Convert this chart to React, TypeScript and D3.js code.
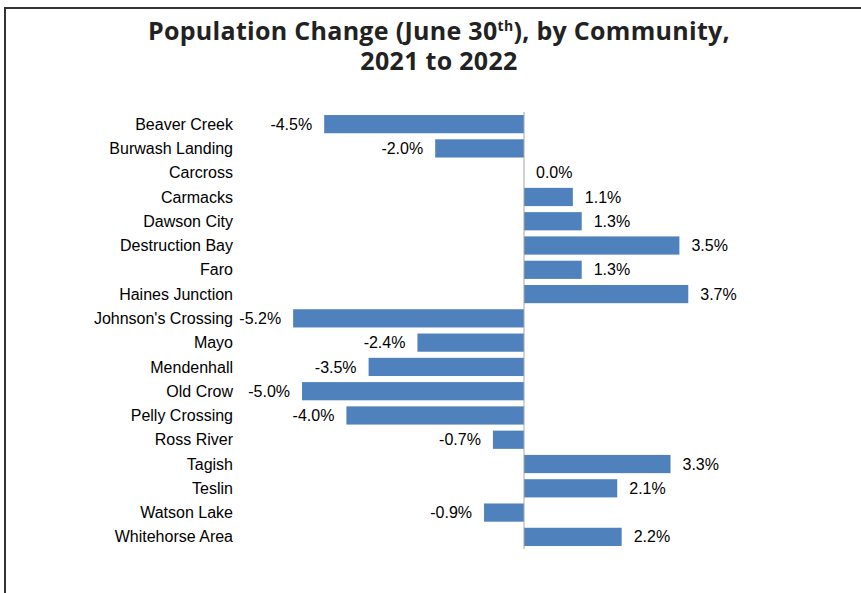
import React from "react";
import * as d3 from "d3";

const communities = [
  "Beaver Creek", "Burwash Landing", "Carcross", "Carmacks", "Dawson City",
  "Destruction Bay", "Faro", "Haines Junction", "Johnson's Crossing", "Mayo",
  "Mendenhall", "Old Crow", "Pelly Crossing", "Ross River", "Tagish",
  "Teslin", "Watson Lake", "Whitehorse Area",
];
const changes = [
  -4.5, -2.0, 0.0, 1.1, 1.3, 3.5, 1.3, 3.7, -5.2, -2.4,
  -3.5, -5.0, -4.0, -0.7, 3.3, 2.1, -0.9, 2.2,
];

const width = 861;
const height = 593;
const labelFont = "'Liberation Sans', Arial, sans-serif";

const App = () => {
  const svgRef = React.useRef<SVGSVGElement>(null);

  React.useEffect(() => {
    const x = d3.scaleLinear().domain([0, 1]).range([524, 568.4]);
    const y = d3.scaleBand<string>()
      .domain(communities)
      .range([112, 549])
      .paddingInner(0.25)
      .paddingOuter(0.125);

    const svgEl = d3.select(svgRef.current);
    svgEl.selectAll("*").remove();

    // frame
    svgEl.append("path")
      .attr("d", `M5,${height + 5} V8 H${width + 5}`)
      .attr("fill", "none")
      .attr("stroke", "#333")
      .attr("stroke-width", 2);

    // title
    const title = svgEl.append("text")
      .attr("text-anchor", "middle")
      .attr("font-family", "'Open Sans', sans-serif")
      .attr("font-weight", 700)
      .attr("font-size", 25)
      .attr("letter-spacing", 0.3)
      .attr("fill", "#222");
    const l1 = title.append("tspan").attr("x", 439).attr("y", 40);
    l1.append("tspan").text("Population Change (June 30");
    l1.append("tspan").attr("font-size", 14).attr("dy", -9).text("th");
    l1.append("tspan").attr("dy", 9).text("), by Community,");
    title.append("tspan").attr("x", 439).attr("y", 70).text("2021 to 2022");

    const rows = communities.map((c, i) => ({ name: c, value: changes[i] }));

    svgEl.append("g").selectAll("rect")
      .data(rows)
      .enter()
      .append("rect")
      .attr("x", (d) => Math.min(x(0), x(d.value)))
      .attr("y", (d) => y(d.name) as number)
      .attr("width", (d) => Math.abs(x(d.value) - x(0)))
      .attr("height", y.bandwidth())
      .attr("fill", "#4f81bd");

    // zero axis line
    svgEl.append("line")
      .attr("x1", x(0)).attr("x2", x(0))
      .attr("y1", 112).attr("y2", 549)
      .attr("stroke", "#a6a6a6")
      .attr("stroke-width", 1);

    // category labels
    svgEl.append("g").selectAll("text")
      .data(rows)
      .enter()
      .append("text")
      .attr("x", 233)
      .attr("y", (d) => (y(d.name) as number) + y.bandwidth() / 2)
      .attr("dy", "0.35em")
      .attr("text-anchor", "end")
      .attr("font-family", labelFont)
      .attr("font-size", 16)
      .attr("fill", "#000")
      .text((d) => d.name);

    // value labels
    svgEl.append("g").selectAll("text")
      .data(rows)
      .enter()
      .append("text")
      .attr("x", (d) => (d.value < 0 ? x(d.value) - 12 : x(d.value) + 12))
      .attr("y", (d) => (y(d.name) as number) + y.bandwidth() / 2)
      .attr("dy", "0.35em")
      .attr("text-anchor", (d) => (d.value < 0 ? "end" : "start"))
      .attr("font-family", labelFont)
      .attr("font-size", 16)
      .attr("fill", "#000")
      .text((d) => `${d.value.toFixed(1)}%`);
  }, []);

  return (
    <svg
      ref={svgRef}
      width={width}
      height={height}
      style={{ position: "absolute", left: 0, top: 0, background: "#fff" }}
    />
  );
};

export default App;
